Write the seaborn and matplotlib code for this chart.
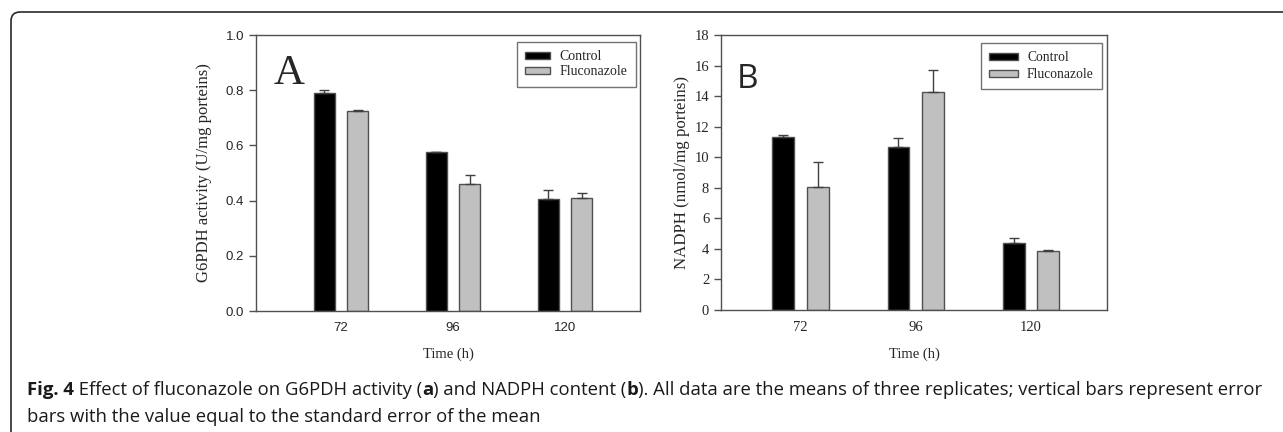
import numpy as np
import pandas as pd
import seaborn as sns
import matplotlib.pyplot as plt
from matplotlib.patches import Patch, FancyBboxPatch
from matplotlib.transforms import IdentityTransform

# values
times = ['72', '96', '120']
groups = ['Control', 'Fluconazole']

g6pdh_control = [0.789, 0.575, 0.407]
g6pdh_control_err = [0.012, 0.002, 0.030]
g6pdh_fluc = [0.725, 0.460, 0.410]
g6pdh_fluc_err = [0.005, 0.031, 0.017]

nadph_control = [11.30, 10.70, 4.41]
nadph_control_err = [0.15, 0.55, 0.30]
nadph_fluc = [8.02, 14.30, 3.86]
nadph_fluc_err = [1.65, 1.42, 0.07]

# caption pieces: (text, bold)
caption_1 = [('Fig. 4', True), (' Effect of fluconazole on G6PDH activity (', False), ('a', True),
             (') and NADPH content (', False), ('b', True),
             ('). All data are the means of three replicates; vertical bars represent error', False)]
caption_2 = [('bars with the value equal to the standard error of the mean', False)]

W, H = 1283, 432
sns.set_style('white')
plt.rcParams['font.family'] = ['Liberation Serif', 'DejaVu Serif']

colors = {'Control': '#000000', 'Fluconazole': '#c0c0c0'}
edge = '#505050'


def make_df(ctrl, fluc):
    return pd.DataFrame({
        'Time': times * 2,
        'Group': ['Control'] * 3 + ['Fluconazole'] * 3,
        'Value': ctrl + fluc,
    })


def px_axes(fig, x0, y0, x1, y1):
    return fig.add_axes([x0 / W, 1 - y1 / H, (x1 - x0) / W, (y1 - y0) / H])


def draw_panel(ax, df, errs, xlim, ylim, yticks, box, leg_size, spacing, hlen):
    sns.barplot(data=df, x='Time', y='Value', hue='Group', order=times,
                hue_order=groups, palette=colors, width=0.6, gap=0.37,
                edgecolor=edge, linewidth=1.0, errorbar=None, legend=False, ax=ax)
    for cont, err in zip(ax.containers, errs):
        xs = [p.get_x() + p.get_width() / 2 for p in cont.patches]
        ys = [p.get_height() for p in cont.patches]
        ax.errorbar(xs, ys, yerr=[np.zeros(len(err)), err], fmt='none',
                    ecolor='#404040', elinewidth=1.0, capsize=3.8, capthick=1.0, zorder=1)
    ax.set_xlim(*xlim)
    ax.set_ylim(*ylim)
    ax.set_yticks(yticks)
    for s in ax.spines.values():
        s.set_color(edge)
        s.set_linewidth(1.0)
    ax.tick_params(axis='y', direction='out', length=5, width=1, color=edge, left=True)
    ax.tick_params(axis='x', length=0, pad=8)
    handles = [Patch(facecolor=colors[g], edgecolor=edge, label=g) for g in groups]
    # box = (right, top) of the legend frame in figure pixels
    leg = ax.legend(handles=handles, loc='upper right', fontsize=leg_size, frameon=True,
                    fancybox=False, handlelength=hlen, handleheight=0.45,
                    bbox_to_anchor=(box[0] / W, 1 - box[1] / H),
                    bbox_transform=fig.transFigure, borderaxespad=0,
                    borderpad=0.6, labelspacing=spacing, handletextpad=0.7)
    leg.get_frame().set_edgecolor(edge)
    leg.get_frame().set_linewidth(1.0)


fig = plt.figure(figsize=(W / 100, H / 100), dpi=100)

# outer frame: only the top-left rounded corner is inside the picture
frame = FancyBboxPatch((11, -40), 1320, H - 12 + 40,
                       boxstyle='round,pad=0,rounding_size=9',
                       transform=IdentityTransform(), facecolor='none',
                       edgecolor='#2a2a2a', linewidth=1.2)
fig.patches.append(frame)

# panel A
ax1 = px_axes(fig, 256, 35, 640, 311)
draw_panel(ax1, make_df(g6pdh_control, g6pdh_fluc),
           [g6pdh_control_err, g6pdh_fluc_err], (-0.76, 2.67), (0, 1.0),
           [0.0, 0.2, 0.4, 0.6, 0.8, 1.0], (636, 42), 10, 0.15, 1.8)
ax1.set_yticklabels(['0.0', '0.2', '0.4', '0.6', '0.8', '1.0'])
for lab in ax1.get_xticklabels() + ax1.get_yticklabels():
    lab.set_family(['Liberation Sans', 'DejaVu Sans'])
    lab.set_fontsize(9.5)
ax1.set_xlabel('Time (h)', fontsize=10.5, labelpad=10)
ax1.set_ylabel('G6PDH activity (U/mg porteins)', fontsize=12, labelpad=10)
ax1.text(0.045, 0.86, 'A', transform=ax1.transAxes, fontsize=31,
         va='center', ha='left', family=['Liberation Serif'])

# panel B
ax2 = px_axes(fig, 721, 35, 1107, 310)
draw_panel(ax2, make_df(nadph_control, nadph_fluc),
           [nadph_control_err, nadph_fluc_err], (-0.69, 2.66), (0, 18),
           list(range(0, 19, 2)), (1102, 43), 9.8, 0.3, 2.1)
for lab in ax2.get_xticklabels() + ax2.get_yticklabels():
    lab.set_fontsize(10.5)
ax2.set_xlabel('Time (h)', fontsize=10.5, labelpad=10)
ax2.set_ylabel('NADPH (nmol/mg porteins)', fontsize=12.2, labelpad=3.5)
ax2.text(0.04, 0.84, 'B', transform=ax2.transAxes, fontsize=24,
         va='center', ha='left', family=['Open Sans', 'DejaVu Sans'])

# caption, pieces chained one after another
cap_font = ['Open Sans', 'DejaVu Sans']
cap_size = 13.3


def caption_line(parts, x, y):
    prev = fig.text(x / W, 1 - y / H, parts[0][0], fontsize=cap_size, family=cap_font,
                    weight='bold' if parts[0][1] else 'normal', color='#1a1a1a',
                    va='baseline')
    for txt, bold in parts[1:]:
        prev = ax1.annotate(txt, xy=(1, 0), xycoords=prev, va='bottom', ha='left',
                            fontsize=cap_size, family=cap_font, color='#1a1a1a',
                            weight='bold' if bold else 'normal', annotation_clip=False)


caption_line(caption_1, 27, 395)
caption_line(caption_2, 27, 422)

plt.savefig('out.png', dpi=100)
plt.close()
